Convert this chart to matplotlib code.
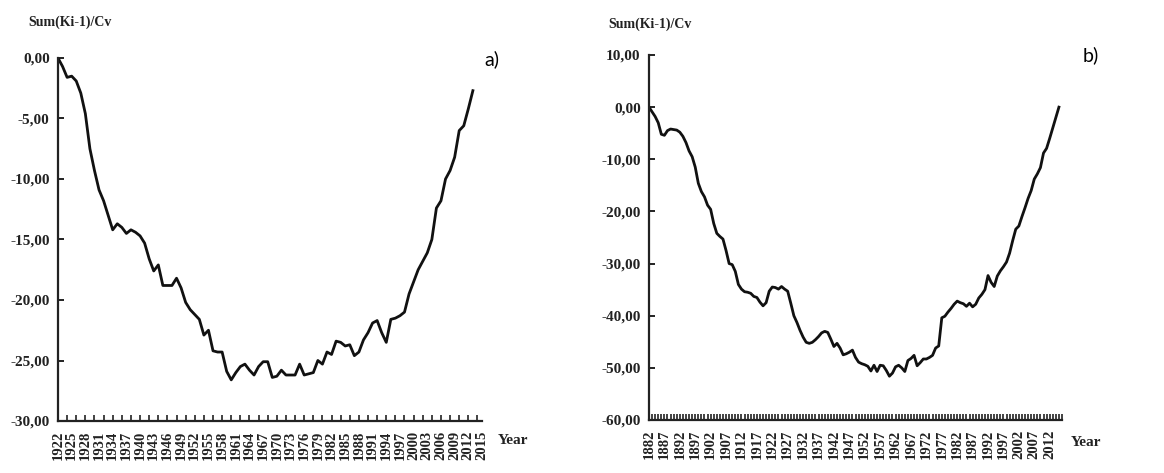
import numpy as np
import matplotlib
matplotlib.use("Agg")
import matplotlib.pyplot as plt
from matplotlib.ticker import FixedLocator, FuncFormatter

# ---------------- data ----------------
years_a = list(range(1922, 2014))
values_a = [0.0, -0.7, -1.6, -1.5, -1.9, -2.9, -4.6, -7.5, -9.3, -10.9,
            -11.8, -13.0, -14.2, -13.7, -14.0, -14.5, -14.2, -14.4, -14.7, -15.3,
            -16.6, -17.6, -17.1, -18.8, -18.8, -18.8, -18.2, -19.0, -20.2, -20.8,
            -21.2, -21.6, -22.9, -22.5, -24.2, -24.3, -24.3, -25.9, -26.6, -26.0,
            -25.5, -25.3, -25.8, -26.2, -25.5, -25.1, -25.1, -26.4, -26.3, -25.8,
            -26.2, -26.2, -26.2, -25.3, -26.2, -26.1, -26.0, -25.0, -25.3, -24.3,
            -24.5, -23.4, -23.5, -23.8, -23.7, -24.6, -24.3, -23.3, -22.7, -21.9,
            -21.7, -22.7, -23.5, -21.6, -21.5, -21.3, -21.0, -19.5, -18.5, -17.5,
            -16.8, -16.1, -15.0, -12.4, -11.8, -10.0, -9.3, -8.2, -6.0, -5.6,
            -4.2, -2.7]

years_b = list(range(1882, 2016))
values_b = [0.0, -0.9, -1.8, -3.0, -5.2, -5.4, -4.5, -4.2, -4.3, -4.4,
            -4.8, -5.6, -6.8, -8.4, -9.5, -11.5, -14.6, -16.2, -17.2, -18.8,
            -19.6, -22.3, -24.2, -24.8, -25.3, -27.5, -30.0, -30.2, -31.5, -34.0,
            -34.9, -35.4, -35.5, -35.7, -36.3, -36.5, -37.4, -38.1, -37.5, -35.3,
            -34.5, -34.6, -34.9, -34.4, -34.9, -35.3, -37.6, -40.0, -41.3, -42.8,
            -44.1, -45.1, -45.3, -45.1, -44.6, -44.0, -43.3, -43.0, -43.2, -44.5,
            -45.9, -45.3, -46.2, -47.5, -47.3, -47.0, -46.6, -48.0, -48.9, -49.2,
            -49.4, -49.7, -50.6, -49.5, -50.7, -49.5, -49.6, -50.5, -51.6, -51.0,
            -49.8, -49.5, -50.0, -50.7, -48.6, -48.2, -47.6, -49.6, -49.0, -48.3,
            -48.3, -48.0, -47.6, -46.2, -45.8, -40.4, -40.1, -39.3, -38.6, -37.8,
            -37.2, -37.5, -37.7, -38.2, -37.6, -38.3, -37.8, -36.6, -35.9, -35.0,
            -32.3, -33.6, -34.4, -32.4, -31.4, -30.6, -29.7, -28.0, -25.6, -23.4,
            -22.8, -21.0, -19.3, -17.5, -16.0, -13.8, -12.8, -11.6, -8.8, -7.9,
            -6.0, -4.0, -2.0, 0.0]

labels_a = list(range(1922, 2016, 3))
labels_b = list(range(1882, 2013, 5))
yticks_a = [0, -5, -10, -15, -20, -25, -30]
yticks_b = [10, 0, -10, -20, -30, -40, -50, -60]

ylabel_text = "Sum(Ki-1)/Cv"
xlabel_text = "Year"
panel_a = "a)"
panel_b = "b)"

# ---------------- style ----------------
serif = ["Liberation Serif", "DejaVu Serif"]
plt.rcParams["font.family"] = serif
W, H = 1164, 473
fig = plt.figure(figsize=(W / 100, H / 100), dpi=100)

def comma(v, pos=None):
    return ("%.2f" % v).replace(".", ",")

def box(x0, x1, ytop, ybot):
    return [x0 / W, 1 - ybot / H, (x1 - x0) / W, (ybot - ytop) / H]

def setup(ax, years, values, xlim, ylim, yticks, labels, minor_step):
    ax.plot(years, values, color="#111111", lw=2.0, solid_joinstyle="round")
    ax.set_xlim(*xlim)
    ax.set_ylim(*ylim)
    for s in ("top", "right"):
        ax.spines[s].set_visible(False)
    for s in ("left", "bottom"):
        ax.spines[s].set_linewidth(1.6)
        ax.spines[s].set_color("#222222")
    ax.yaxis.set_major_locator(FixedLocator(yticks))
    ax.yaxis.set_major_formatter(FuncFormatter(comma))
    ax.tick_params(axis="y", direction="in", length=4, width=1.4,
                   pad=6, labelsize=11, colors="#222222")
    for t in ax.get_yticklabels():
        t.set_fontweight("bold")
    ax.xaxis.remove_overlapping_locs = False
    ax.xaxis.set_major_locator(FixedLocator(labels))
    ax.set_xticklabels([str(y) for y in labels], rotation=90,
                       fontweight="bold", fontsize=10.5)
    minor = list(np.arange(xlim[0], xlim[1] + 0.01, minor_step))
    ax.xaxis.set_minor_locator(FixedLocator(minor))
    ax.tick_params(axis="x", which="major", direction="in", length=0,
                   pad=7, colors="#222222")
    ax.tick_params(axis="x", which="minor", direction="in", length=4,
                   width=1.2, colors="#222222")

# left panel
axA = fig.add_axes(box(58, 482, 58, 421))
setup(axA, years_a, values_a, (1922, 2015), (-30, 0), yticks_a, labels_a, 2)
# right panel
axB = fig.add_axes(box(649, 1062, 55, 420))
setup(axB, years_b, values_b, (1882, 2016), (-60, 10), yticks_b, labels_b, 1)

# axis titles
fig.text(70 / W, 1 - 22 / H, ylabel_text, ha="center", va="center",
         fontsize=10, fontweight="bold", color="#222222")
fig.text(650 / W, 1 - 24 / H, ylabel_text, ha="center", va="center",
         fontsize=10, fontweight="bold", color="#222222")
fig.text(513 / W, 1 - 440 / H, xlabel_text, ha="center", va="center",
         fontsize=11, fontweight="bold", color="#222222")
fig.text(1086 / W, 1 - 442 / H, xlabel_text, ha="center", va="center",
         fontsize=11, fontweight="bold", color="#222222")

# panel letters
fig.text(492 / W, 1 - 59 / H, panel_a, ha="center", va="center",
         fontsize=14, family=["Lato", "DejaVu Sans"], color="black")
fig.text(1091 / W, 1 - 55 / H, panel_b, ha="center", va="center",
         fontsize=14, family=["Lato", "DejaVu Sans"], color="black")

fig.savefig("out.png", dpi=100, facecolor="white")
